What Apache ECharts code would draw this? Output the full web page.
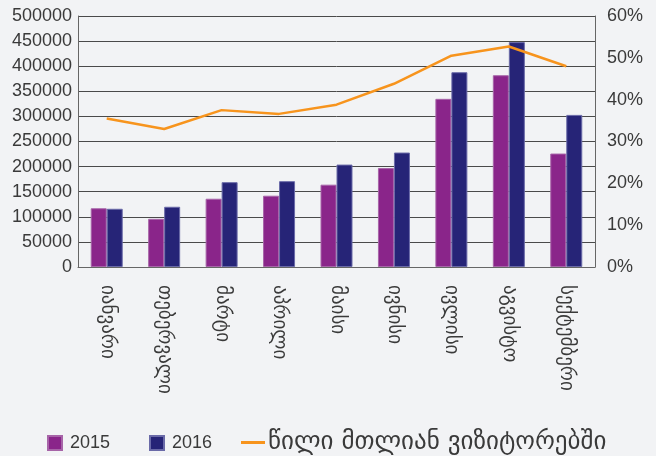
<!DOCTYPE html>
<html>
<head>
<meta charset="utf-8">
<script src="https://cdn.jsdelivr.net/npm/echarts@6/dist/echarts.min.js"></script>
<style>
html,body{margin:0;padding:0;background:#f2f3f5;}
#chart{width:656px;height:456px;}
</style>
</head>
<body>
<div id="chart"></div>
<script>
// Monthly visitor counts and share of total visitors
const months = ['იანვარი','თებერვალი','მარტი','აპრილი','მაისი','ივნისი','ივლისი','აგვისტო','სექტემბერი'];
const visits2015 = [117000, 96000, 136000, 142000, 164000, 197000, 335000, 382000, 226000];
const visits2016 = [116000, 120000, 169000, 171000, 204000, 228000, 388000, 448000, 303000];
const shareOfTotal = [0.355, 0.33, 0.375, 0.366, 0.388, 0.438, 0.505, 0.527, 0.48];
const leftTicks = { min: 0, max: 500000, step: 50000 };
const rightTicks = { min: 0, max: 0.6, step: 0.1 };

const nameShare = 'წილი მთლიან ვიზიტორებში';
const txt = '#3a3a3a';
const georgianFont = '"DejaVu Sans", "Noto Sans", sans-serif';
const numFont = '"Liberation Sans", Arial, sans-serif';

const chart = echarts.init(document.getElementById('chart'));
chart.setOption({
  backgroundColor: '#f2f3f5',
  animation: false,
  grid: { left: 78, right: 61, top: 16, bottom: 189, containLabel: false },
  legend: [
    { data: ['2015'], left: 42, top: 429, itemWidth: 14, itemHeight: 14, icon: 'rect',
      textStyle: { fontSize: 18, color: txt, fontFamily: numFont, padding: [0, 0, 0, 3] } },
    { data: ['2016'], left: 144, top: 429, itemWidth: 14, itemHeight: 14, icon: 'rect',
      textStyle: { fontSize: 18, color: txt, fontFamily: numFont, padding: [0, 0, 0, 3] } },
    { data: [nameShare], left: 236, top: 425, itemWidth: 24, itemHeight: 3, icon: 'rect',
      itemStyle: { color: '#f7941d' },
      textStyle: { fontSize: 25, color: txt, fontFamily: georgianFont, padding: [0, 0, 0, -2] } }
  ],
  xAxis: {
    type: 'category',
    data: months,
    axisLine: { show: true, lineStyle: { color: '#666', width: 1 } },
    axisTick: { show: false },
    axisLabel: {
      rotate: -90, margin: 18, fontSize: 19, color: txt, fontFamily: georgianFont,
      interval: 0
    }
  },
  yAxis: [
    {
      type: 'value', min: leftTicks.min, max: leftTicks.max, interval: leftTicks.step,
      axisLine: { show: true, lineStyle: { color: '#666' } },
      axisTick: { show: false },
      splitLine: { show: true, lineStyle: { color: '#4a4a4a', width: 1 } },
      axisLabel: { fontSize: 18, color: txt, fontFamily: numFont, margin: 6,
        formatter: v => String(v) }
    },
    {
      type: 'value', min: rightTicks.min, max: rightTicks.max, interval: rightTicks.step,
      axisLine: { show: true, lineStyle: { color: '#666' } },
      axisTick: { show: false },
      splitLine: { show: false },
      axisLabel: {
        fontSize: 18, color: txt, fontFamily: numFont, margin: 12,
        formatter: v => Math.round(v * 100) + '%'
      }
    }
  ],
  series: [
    {
      name: '2015', type: 'bar', data: visits2015, barWidth: 16, barGap: '0%',
      itemStyle: { color: '#8a258a', borderColor: '#a764a8', borderWidth: 1 }
    },
    {
      name: '2016', type: 'bar', data: visits2016, barWidth: 16,
      itemStyle: { color: '#262477', borderColor: '#6a6aa8', borderWidth: 1 }
    },
    {
      name: nameShare, type: 'line', yAxisIndex: 1, data: shareOfTotal,
      symbol: 'none', lineStyle: { color: '#f7941d', width: 2.5 },
      itemStyle: { color: '#f7941d' }
    }
  ]
});
</script>
</body>
</html>
